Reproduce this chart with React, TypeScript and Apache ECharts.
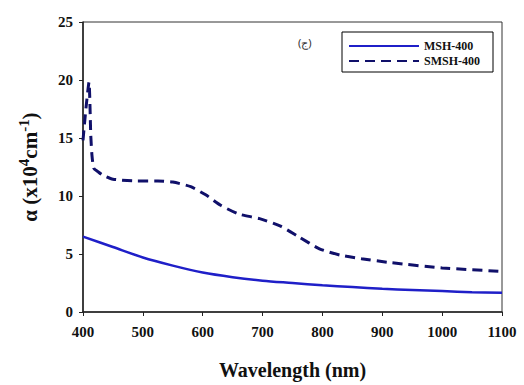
import React, { useEffect, useRef } from "react";
import * as echarts from "echarts";

const msWavelength = [400, 450, 500, 550, 600, 650, 700, 750, 800, 850, 900, 950, 1000, 1050, 1100];
const msValues = [6.5, 5.6, 4.7, 4.0, 3.4, 3.0, 2.7, 2.5, 2.3, 2.15, 2.0, 1.9, 1.8, 1.7, 1.65];

const smsWavelength = [400, 405, 410, 413, 415, 418, 425, 433, 450, 490, 525, 550, 580, 605, 630, 660, 695, 730, 760, 795, 830, 865, 915, 1000, 1100];
const smsValues = [14.8, 17.6, 19.8, 15.2, 13.5, 12.4, 12.1, 11.8, 11.45, 11.3, 11.3, 11.2, 10.8, 10.1, 9.2, 8.45, 8.05, 7.4, 6.5, 5.45, 4.9, 4.6, 4.25, 3.8, 3.5];

const xTicks = { min: 400, max: 1100, interval: 100 };
const yTicks = { min: 0, max: 25, interval: 5 };

const seriesNames = ["MSH-400", "SMSH-400"];
const panelLabel = "(ج)";

const FONT = "Liberation Serif, Times New Roman, serif";

export default function App() {
  const ref = useRef<HTMLDivElement>(null);
  useEffect(() => {
    if (!ref.current) return;
    const chart = echarts.init(ref.current, null, { renderer: "svg" });
    const pairs = (xs: number[], ys: number[]) => xs.map((x, i) => [x, ys[i]]);
    chart.setOption({
      animation: false,
      backgroundColor: "#ffffff",
      textStyle: { fontFamily: FONT },
      grid: {
        left: 83,
        right: 22,
        top: 22,
        bottom: 70,
        show: true,
        borderColor: "#333",
        borderWidth: 1,
      },
      legend: {
        left: 342,
        top: 32,
        orient: "vertical",
        data: seriesNames,
        itemWidth: 70,
        itemHeight: 12,
        itemGap: 3,
        padding: [8, 13, 5, 6],
        borderColor: "#000",
        borderWidth: 1,
        backgroundColor: "#fff",
        itemStyle: { opacity: 0 },
        textStyle: { fontFamily: FONT, fontWeight: "bold", fontSize: 12, color: "#111" },
      },
      xAxis: {
        type: "value",
        min: xTicks.min,
        max: xTicks.max,
        interval: xTicks.interval,
        name: "Wavelength (nm)",
        nameLocation: "middle",
        nameGap: 48,
        nameTextStyle: { fontFamily: FONT, fontWeight: "bold", fontSize: 20, color: "#111" },
        axisLine: { lineStyle: { color: "#222", width: 1.5 } },
        axisTick: { show: true, inside: false, length: 4, lineStyle: { color: "#222" } },
        axisLabel: {
          fontFamily: FONT,
          fontWeight: "bold",
          fontSize: 15,
          color: "#111",
          margin: 12,
          formatter: (v: number) => String(v),
        },
        splitLine: { show: false },
      },
      yAxis: {
        type: "value",
        min: yTicks.min,
        max: yTicks.max,
        interval: yTicks.interval,
        name: "{a|α (x10}{sup|4}{a|cm}{sup|-1}{a|)}",
        nameLocation: "middle",
        nameGap: 43,
        nameTextStyle: {
          rich: {
            a: { fontFamily: FONT, fontWeight: "bold", fontSize: 21, color: "#111", verticalAlign: "bottom" },
            sup: { fontFamily: FONT, fontWeight: "bold", fontSize: 15, color: "#111", verticalAlign: "bottom", padding: [0, 0, 9, 0] },
          },
        },
        axisLine: { show: true, lineStyle: { color: "#222", width: 1.5 } },
        axisTick: { show: true, inside: false, length: 4, lineStyle: { color: "#222" } },
        axisLabel: { fontFamily: FONT, fontWeight: "bold", fontSize: 15, color: "#111", margin: 10 },
        splitLine: { show: false },
      },
      series: [
        {
          name: seriesNames[0],
          type: "line",
          data: pairs(msWavelength, msValues),
          symbol: "none",
          smooth: 0.3,
          lineStyle: { color: "#1f1fc8", width: 2.5, type: "solid" },
          itemStyle: { color: "#1f1fc8" },
        },
        {
          name: seriesNames[1],
          type: "line",
          data: pairs(smsWavelength, smsValues),
          symbol: "none",
          smooth: 0.2,
          lineStyle: { color: "#10106a", width: 3, type: [10, 6] },
          itemStyle: { color: "#10106a" },
        },
      ],
      graphic: [
        {
          type: "text",
          left: 298,
          top: 37,
          style: { text: panelLabel, font: "11px Noto Sans, sans-serif", fill: "#333" },
        },
      ],
    });
    return () => chart.dispose();
  }, []);
  return (
    <div
      ref={ref}
      style={{ position: "fixed", left: 0, top: 0, width: 524, height: 385, background: "#fff" }}
    />
  );
}
